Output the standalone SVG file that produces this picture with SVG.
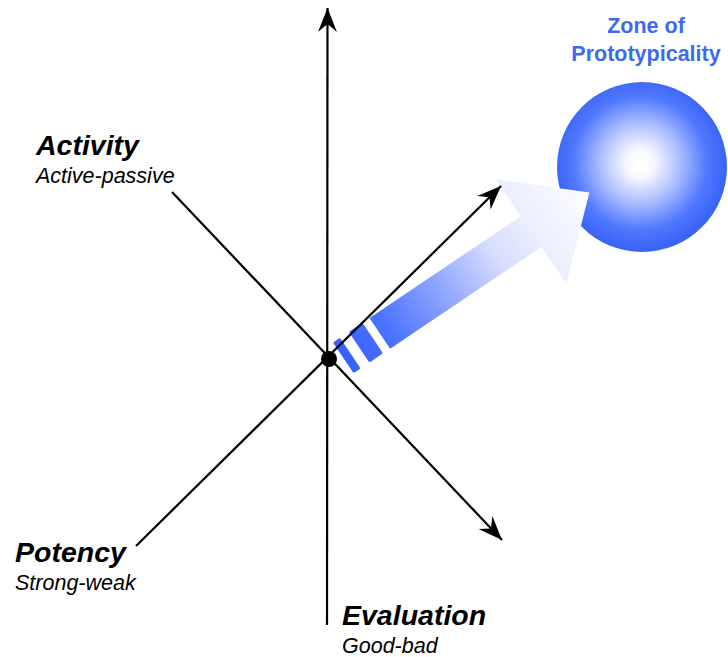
<svg xmlns="http://www.w3.org/2000/svg" width="728" height="657" viewBox="0 0 728 657">
<style>
.axis{stroke:#000;stroke-width:2.2;fill:none}
.lbl{font-family:"Liberation Sans",Arial,sans-serif;font-style:italic;font-weight:bold;font-size:28.5px;fill:#000}
.sub{font-family:"Liberation Sans",Arial,sans-serif;font-style:italic;font-size:21.5px;fill:#000}
.zone{font-family:"Liberation Sans",Arial,sans-serif;font-weight:bold;font-size:21.5px;fill:#3d6af2}
</style>
<defs>
<marker id="ah" markerUnits="userSpaceOnUse" viewBox="-26 -12 28 24" markerWidth="28" markerHeight="24" refX="0" refY="0" orient="auto">
<path d="M0,0 L-24,-9.5 L-16,0 L-24,9.5 Z" fill="#000"/>
</marker>
<radialGradient id="sph" gradientUnits="userSpaceOnUse" cx="640" cy="163" r="86" fx="640" fy="163">
<stop offset="0" stop-color="#ffffff"/>
<stop offset="0.16" stop-color="#f8f9ff"/>
<stop offset="0.45" stop-color="#b0c0ff"/>
<stop offset="0.78" stop-color="#5078ff"/>
<stop offset="1" stop-color="#3a64f6"/>
</radialGradient>
<linearGradient id="shaft" gradientUnits="userSpaceOnUse" x1="10" y1="0" x2="309" y2="0">
<stop offset="0" stop-color="#3660ff"/>
<stop offset="0.18" stop-color="#4a72ff"/>
<stop offset="0.42" stop-color="#94a9ff"/>
<stop offset="0.62" stop-color="#d6ddff"/>
<stop offset="0.78" stop-color="#eceffe"/>
<stop offset="1" stop-color="#fdfdff"/>
</linearGradient>
</defs>

<g id="zone">
<circle cx="642" cy="167" r="85" fill="url(#sph)"/>
<text class="zone" x="646" y="33" text-anchor="middle">Zone of</text>
<text class="zone" x="646" y="61" text-anchor="middle">Prototypicality</text>
</g>

<g id="vector" transform="translate(329,359) rotate(-33.9) translate(0,7)" fill="url(#shaft)">
<rect x="12.5" y="-18.5" width="8.5" height="37" rx="1.5"/>
<rect x="31.5" y="-18.5" width="16.5" height="37" rx="2"/>
<path d="M56.5,-18.5 L239,-18.5 L239,-63 L309,0 L239,63 L239,18.5 L56.5,18.5 Z"/>
</g>

<g id="connectors">
<line class="axis" x1="327" y1="625" x2="327.5" y2="8" marker-end="url(#ah)"/>
<line class="axis" x1="172" y1="192" x2="502" y2="540" marker-end="url(#ah)"/>
<line class="axis" x1="136" y1="546" x2="501" y2="186" marker-end="url(#ah)"/>
</g>

<g id="origin">
<circle cx="329" cy="359" r="8" fill="#000"/>
</g>

<g id="activity">
<text class="lbl" x="36" y="155">Activity</text>
<text class="sub" x="36" y="183">Active-passive</text>
</g>
<g id="potency">
<text class="lbl" x="15" y="562">Potency</text>
<text class="sub" x="15" y="590">Strong-weak</text>
</g>
<g id="evaluation">
<text class="lbl" x="342" y="625">Evaluation</text>
<text class="sub" x="342" y="653">Good-bad</text>
</g>
</svg>
